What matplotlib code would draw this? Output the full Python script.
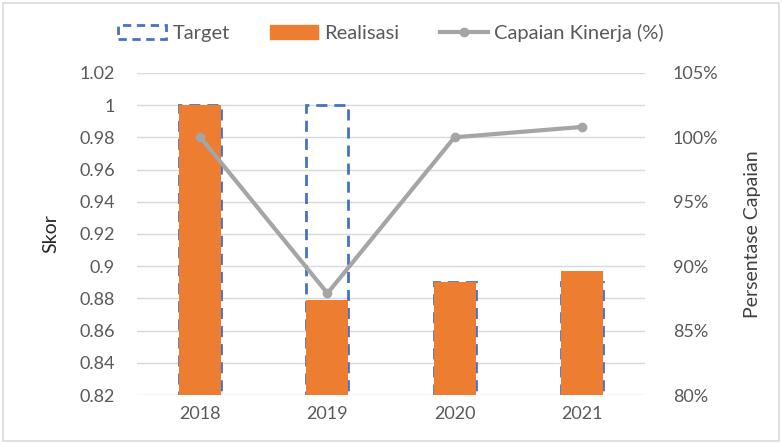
import matplotlib
matplotlib.use("Agg")
import matplotlib.pyplot as plt
from matplotlib.patches import Patch, Rectangle
from matplotlib.lines import Line2D
from matplotlib.ticker import FuncFormatter, MultipleLocator

years = ["2018", "2019", "2020", "2021"]
target = [1.0, 1.0, 0.89, 0.89]
realisasi = [1.0, 0.879, 0.89, 0.897]
capaian = [100.0, 87.9, 100.0, 100.8]

plt.rcParams['font.family'] = ['Lato', 'DejaVu Sans']

fig = plt.figure(figsize=(7.82, 4.44), dpi=100)
ax = fig.add_axes([0.175, 0.11, 0.65, 0.726])
ax2 = ax.twinx()

x = list(range(len(years)))
w = 0.33
orange = "#ED7D31"
blue = "#4472C4"
gray = "#A5A5A5"
tcol = "#595959"

ax.bar(x, target, width=w, facecolor="none", edgecolor=blue, linestyle=(0, (4, 2.5)), linewidth=2, zorder=2)
ax.bar(x, realisasi, width=w, color=orange, zorder=3)

ax.set_ylim(0.82, 1.02)
ax.set_xlim(-0.5, 3.5)
ax.yaxis.set_major_locator(MultipleLocator(0.02))
ax.yaxis.set_major_formatter(FuncFormatter(lambda v, p: f"{v:.2f}".rstrip('0').rstrip('.')))
ax.grid(axis='y', color="#D9D9D9", linewidth=1, zorder=0)
ax.set_axisbelow(True)
ax.set_xticks(x)
ax.set_xticklabels(years)

ax2.plot(x, capaian, color=gray, linewidth=3, marker='o', markersize=6, zorder=4)
ax2.set_ylim(80, 105)
ax2.yaxis.set_major_locator(MultipleLocator(5))
ax2.yaxis.set_major_formatter(FuncFormatter(lambda v, p: f"{v:.0f}%"))

for a in (ax, ax2):
    for s in a.spines.values():
        s.set_visible(False)
    a.tick_params(length=0, labelsize=13, colors=tcol)
ax.tick_params(axis='y', pad=16)
ax.tick_params(axis='x', pad=8)
ax2.tick_params(axis='y', pad=20)

ax.set_ylabel("Skor", fontsize=14, color="#262626", labelpad=14)
ax2.set_ylabel("Persentase Capaian", fontsize=14, color="#404040", labelpad=18)

handles = [
    Patch(facecolor="none", edgecolor=blue, linestyle=(0, (3, 2)), linewidth=2),
    Patch(facecolor=orange, edgecolor=orange),
    Line2D([0], [0], color=gray, linewidth=3, marker='o', markersize=6),
]
labels = ["Target", "Realisasi", "Capaian Kinerja (%)"]
fig.legend(handles, labels, loc="center", bbox_to_anchor=(0.5, 0.925), ncol=3,
           frameon=False, fontsize=14.5, handlelength=2.4, handletextpad=0.3,
           columnspacing=2.0, labelcolor=tcol)

fig.patches.append(Rectangle((0.004, 0.006), 0.992, 0.988, transform=fig.transFigure,
                             fill=False, edgecolor="#D9D9D9", linewidth=1.2))

fig.savefig("out.png", dpi=100)
